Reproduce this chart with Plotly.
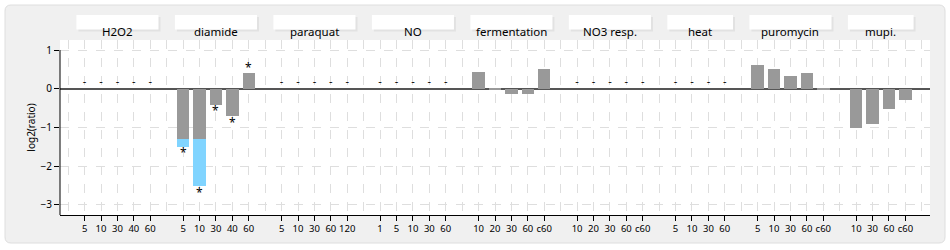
import plotly.graph_objects as go

# ---------------- data ----------------
groups = ["H2O2", "diamide", "paraquat", "NO", "fermentation",
          "NO3 resp.", "heat", "puromycin", "mupi."]
timepoints = [
    ["5", "10", "30", "40", "60"],
    ["5", "10", "30", "40", "60"],
    ["5", "10", "30", "60", "120"],
    ["1", "5", "10", "30", "60"],
    ["10", "20", "30", "60", "c60"],
    ["10", "20", "30", "60", "c60"],
    ["5", "10", "30", "60"],
    ["5", "10", "30", "60", "c60"],
    ["10", "30", "60", "c60"],
]
# log2(ratio); None = no data (shown as "-")
values = [
    [None, None, None, None, None],
    [-1.50, -2.52, -0.41, -0.71, 0.40],
    [None, None, None, None, None],
    [None, None, None, None, None],
    [0.43, -0.03, -0.13, -0.13, 0.52],
    [None, None, None, None, None],
    [None, None, None, None],
    [0.62, 0.52, 0.32, 0.42, -0.03],
    [-1.00, -0.90, -0.51, -0.30],
]
significant = [
    [False] * 5,
    [True, True, True, True, True],
    [False] * 5,
    [False] * 5,
    [False] * 5,
    [False] * 5,
    [False] * 4,
    [False] * 5,
    [False] * 4,
]
clip_level = -1.29   # bars below this level continue in light blue

# ---------------- layout helpers ----------------
W, H = 950, 250
L, R, T, B = 60, 20, 40, 35
pw, ph = W - L - R, H - T - B
def px2paper_x(p):
    return (p - L) / pw
def px2paper_y(p):
    return (H - B - p) / ph

slot = 1
xs, ticks, gray, blue, dash_x = [], [], [], [], []
stars = []
group_span = []
for g, tps, vals, sig in zip(groups, timepoints, values, significant):
    start = slot
    for tp, v, s in zip(tps, vals, sig):
        ticks.append((slot, tp))
        if v is None:
            dash_x.append(slot)
        else:
            xs.append(slot)
            if v < clip_level:
                gray.append(clip_level)
                blue.append(v - clip_level)
            else:
                gray.append(v)
                blue.append(0)
            if s:
                stars.append((slot, v))
        slot += 1
    group_span.append((start, slot - 1))
    slot += 1
nslots = slot  # includes trailing empty slot

FONT = "Noto Sans"
GRID = "#dedede"
fig = go.Figure()
fig.add_trace(go.Bar(x=xs, y=gray, marker=dict(color="#999999", line=dict(width=0)),
                     width=0.76, showlegend=False))
fig.add_trace(go.Bar(x=xs, y=blue, marker=dict(color="#80d4ff", line=dict(width=0)),
                     width=0.76, showlegend=False))
fig.add_trace(go.Scatter(x=dash_x, y=[0.16] * len(dash_x), mode="text", text=["-"] * len(dash_x),
                         textfont=dict(size=11, color="black", family=FONT),
                         showlegend=False))

shapes = []
# outer panel
x0, x1 = px2paper_x(5), px2paper_x(945)
y0, y1 = px2paper_y(243), px2paper_y(5)
rx, ry = 6 / pw, 6 / ph
path = (f"M {x0+rx},{y0} L {x1-rx},{y0} Q {x1},{y0} {x1},{y0+ry} "
        f"L {x1},{y1-ry} Q {x1},{y1} {x1-rx},{y1} L {x0+rx},{y1} "
        f"Q {x0},{y1} {x0},{y1-ry} L {x0},{y0+ry} Q {x0},{y0} {x0+rx},{y0} Z")
shapes.append(dict(type="path", path=path, xref="paper", yref="paper",
                   fillcolor="#f0f0f0", line=dict(color="#dedede", width=1), layer="below"))
shapes.append(dict(type="rect", xref="paper", yref="paper", x0=0, x1=1, y0=0, y1=1,
                   fillcolor="#ffffff", line=dict(width=0), layer="below"))
# y-axis line from 1 down
shapes.append(dict(type="line", xref="paper", yref="y", x0=0, x1=0, y0=1, y1=-3.26,
                   line=dict(color="#000", width=1)))
# group label boxes
sx = 2 / (pw / nslots)
annotations = []
for g, (a, b) in zip(groups, group_span):
    shapes.append(dict(type="rect", xref="x", yref="paper", x0=a - 0.5 + sx, x1=b + 0.5 + sx,
                       y0=px2paper_y(31.5), y1=px2paper_y(17), fillcolor="#e2e2e2",
                       line=dict(width=0), layer="below"))
    shapes.append(dict(type="rect", xref="x", yref="paper", x0=a - 0.5, x1=b + 0.5,
                       y0=px2paper_y(29.5), y1=px2paper_y(15), fillcolor="#ffffff",
                       line=dict(width=0), layer="below"))
    annotations.append(dict(x=(a + b) / 2, y=px2paper_y(22), xref="x", yref="paper",
                            text=g, showarrow=False,
                            font=dict(size=11.5, color="#000", family=FONT)))
# significance stars
for sxv, v in stars:
    annotations.append(dict(x=sxv, y=v, xref="x", yref="y", text="*", showarrow=False,
                            yanchor="middle", yshift=-6 if v < 0 else 6,
                            font=dict(size=12, color="#000", family=FONT)))

fig.update_layout(
    width=W, height=H, margin=dict(l=L, r=R, t=T, b=B, autoexpand=False),
    paper_bgcolor="#ffffff", plot_bgcolor="rgba(0,0,0,0)",
    barmode="relative", bargap=0,
    font=dict(family=FONT, size=10, color="#000"),
    shapes=shapes, annotations=annotations,
    xaxis=dict(range=[-0.5, nslots - 0.5], tickmode="array",
               tickvals=[t[0] for t in ticks], ticktext=[t[1] for t in ticks],
               tickangle=0, automargin=False,
               ticks="outside", ticklen=5, tickcolor="#000",
               showgrid=True, gridcolor=GRID, griddash="dash", gridwidth=1,
               minor=dict(tickmode="linear", tick0=0, dtick=1, showgrid=True,
                          gridcolor=GRID, griddash="dash", gridwidth=1, ticklen=0),
               showline=True, linecolor="#000", linewidth=1, zeroline=False,
               tickfont=dict(size=9.5), fixedrange=True),
    yaxis=dict(range=[-3.26, 1.26], tickvals=[-3, -2, -1, 0, 1], automargin=False,
               ticks="outside", ticklen=5, tickcolor="#000",
               showgrid=True, gridcolor=GRID, griddash="dash", gridwidth=1,
               zeroline=True, zerolinecolor="#555555", zerolinewidth=1.5,
               showline=False, title=dict(text="log2(ratio)", font=dict(size=10), standoff=3),
               tickfont=dict(size=10), fixedrange=True),
)

fig.write_html("out.html")
